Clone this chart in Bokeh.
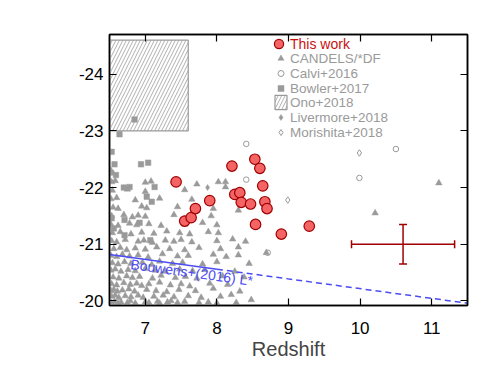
import math
from bokeh.plotting import figure
from bokeh.models import (Range1d, LinearAxis, FixedTicker, Legend, LegendItem, Label,
                          ColumnDataSource, Whisker, TeeHead)
from bokeh.embed import file_html
from bokeh.resources import INLINE

# ---------------- data ----------------
this_z = [7.43, 7.55, 7.64, 7.70, 7.90, 8.21, 8.25, 8.32, 8.34, 8.47, 8.53, 8.60, 8.64, 8.67, 8.70, 8.54, 8.90, 9.29]
this_m = [-22.10, -21.41, -21.47, -21.63, -21.77, -22.38, -21.88, -21.91, -21.74, -21.71, -22.50, -22.34, -22.03, -21.75, -21.63, -21.35, -21.18, -21.32]

candels_z = [6.53, 6.57, 6.62, 6.66, 6.75, 6.79, 6.86, 7.00, 7.05, 7.17, 7.20, 7.31, 7.36, 7.45, 7.55, 7.75, 7.88, 8.00, 8.27, 8.48,
             6.53, 6.58, 6.63, 6.72, 6.80, 6.90, 6.97, 7.12, 7.25, 7.40, 7.60, 7.78, 8.05, 8.20,
             6.52, 6.56, 6.61, 6.68, 6.77, 6.85, 7.02, 7.15, 7.30, 7.47, 7.70, 7.95, 8.32,
             6.53, 6.60, 6.70, 6.79, 6.88, 6.95, 7.05, 7.20, 7.35, 7.50, 7.62, 7.90, 8.15,
             6.55, 6.63, 6.74, 6.82, 6.92, 7.10, 7.22, 7.42, 7.56, 7.72, 8.08, 8.38,
             6.52, 6.58, 6.66, 6.76, 6.86, 7.00, 7.14, 7.28, 7.48, 7.66, 7.83, 8.25,
             6.54, 6.62, 6.71, 6.80, 6.96, 7.09, 7.20, 7.38, 7.52, 7.80, 8.00, 8.45,
             6.52, 6.60, 6.68, 6.78, 6.90, 7.04, 7.24, 7.45, 7.60, 7.95, 8.13, 8.30,
             6.56, 6.65, 6.74, 6.86, 7.00, 7.16, 7.34, 7.55, 7.75, 8.05, 8.30,
             6.53, 6.60, 6.72, 6.90, 6.98, 7.10, 7.28, 7.40, 7.50, 7.65, 8.00, 8.22, 8.40,
             6.54, 6.65, 6.80, 6.95, 7.12, 7.30, 7.48, 7.62, 7.88, 8.02,
             6.52, 6.62, 6.78, 6.88, 7.05, 7.22, 7.55, 7.80, 8.00,
             6.53, 6.70, 6.82, 6.90, 7.00, 7.40, 7.92,
             6.55, 6.62, 6.95, 7.02, 7.45, 7.95, 8.30,
             6.52, 6.60, 6.86, 7.20, 7.65,
             6.54, 6.75, 7.00, 7.55,
             6.53, 6.58, 7.00, 7.08, 7.72, 8.02, 8.12, 8.12,
             6.52, 6.55,
             10.21, 11.10, 8.69]
candels_m = [-19.97, -19.99, -19.96, -19.98, -19.97, -20.00, -19.96, -19.98, -19.97, -19.99, -19.96, -19.98, -20.00, -19.97, -19.99, -19.97, -19.98, -19.96, -19.97, -20.02,
             -20.08, -20.10, -20.06, -20.09, -20.07, -20.10, -20.06, -20.08, -20.10, -20.07, -20.09, -20.06, -20.08, -20.11,
             -20.18, -20.20, -20.17, -20.19, -20.21, -20.17, -20.20, -20.18, -20.16, -20.20, -20.18, -20.22, -20.17,
             -20.30, -20.28, -20.32, -20.29, -20.31, -20.27, -20.30, -20.33, -20.28, -20.30, -20.26, -20.31, -20.29,
             -20.42, -20.40, -20.44, -20.41, -20.43, -20.40, -20.45, -20.41, -20.43, -20.40, -20.44, -20.42,
             -20.54, -20.56, -20.52, -20.55, -20.53, -20.57, -20.54, -20.52, -20.56, -20.53, -20.55, -20.52,
             -20.67, -20.65, -20.69, -20.66, -20.68, -20.64, -20.70, -20.66, -20.68, -20.65, -20.69, -20.66,
             -20.80, -20.78, -20.82, -20.79, -20.81, -20.77, -20.83, -20.79, -20.80, -20.82, -20.78, -20.81,
             -20.92, -20.94, -20.90, -20.93, -20.91, -20.95, -20.92, -20.90, -20.94, -20.92, -20.95,
             -21.06, -21.04, -21.08, -21.05, -21.07, -21.03, -21.07, -21.05, -21.08, -21.04, -21.06, -21.09, -21.05,
             -21.20, -21.22, -21.18, -21.21, -21.19, -21.23, -21.20, -21.18, -21.22, -21.20,
             -21.35, -21.33, -21.37, -21.34, -21.36, -21.33, -21.35, -21.38, -21.34,
             -21.50, -21.52, -21.48, -21.51, -21.49, -21.52, -21.50,
             -21.65, -21.63, -21.67, -21.64, -21.66, -21.63, -21.60,
             -21.80, -21.82, -21.78, -21.81, -21.79,
             -21.95, -21.97, -21.93, -21.96,
             -22.10, -22.12, -22.09, -22.11, -22.06, -22.10, -22.10, -22.01,
             -22.30, -22.25,
             -21.55, -22.08, -20.85]

bowler_z = [6.64, 6.53, 6.57, 6.59, 6.94, 7.04, 6.70, 6.78, 7.13, 7.09, 7.02, 6.92, 6.71, 6.53, 6.56, 7.07, 6.85, 6.71]
bowler_m = [-22.94, -22.63, -22.41, -22.22, -22.41, -22.44, -22.00, -22.01, -22.01, -21.75, -21.84, -21.38, -21.43, -21.46, -21.28, -21.07, -23.20, -21.16]

calvi_z = [8.41, 8.41, 9.99, 10.50, 8.71]
calvi_m = [-22.77, -22.14, -22.17, -22.68, -20.85]

livermore_z = [7.87]
livermore_m = [-22.00]

morishita_z = [9.99, 8.99]
morishita_m = [-22.61, -21.78]

ono_z_lo = [6.5]
ono_z_hi = [7.6]
ono_m_faint = [-23.0]
ono_m_bright = [-24.6]

bouwens_z = [6.5, 8.0, 11.5]
bouwens_m = [-20.82, -20.56, -19.96]

err_z = [10.6]
err_m = [-21.0]
err_dz = [0.72]
err_dm = [0.35]

xticks = [7, 8, 9, 10, 11]
xtick_labels = ["7", "8", "9", "10", "11"]
yticks = [-20, -21, -22, -23, -24]
ytick_labels = ["-20", "-21", "-22", "-23", "-24"]

legend_labels = ["CANDELS/*DF", "Calvi+2016", "Bowler+2017", "Ono+2018", "Livermore+2018", "Morishita+2018"]

x_lim = (6.5, 11.5)
y_lim = (-19.92, -24.7)

# ---------------- figure ----------------
FONT = "Liberation Sans"
GRAY = "#9a9a9a"
W, H = 493, 368
ML, MR, MT, MB = 109, 26, 34, 63

p = figure(width=W, height=H, output_backend="svg", toolbar_location=None,
           x_range=Range1d(*x_lim), y_range=Range1d(*y_lim),
           min_border_left=ML, min_border_right=MR, min_border_top=MT, min_border_bottom=MB,
           background_fill_color="white", border_fill_color="white")
p.grid.visible = False
p.outline_line_color = "black"
p.outline_line_width = 1.5

xt = FixedTicker(ticks=xticks, num_minor_ticks=5)
yt = FixedTicker(ticks=yticks, num_minor_ticks=5)


def style_axis(ax, standoff=6):
    ax.axis_line_color = "black"
    ax.axis_line_width = 1.5
    ax.major_tick_in = 7
    ax.major_tick_out = 0
    ax.minor_tick_in = 4
    ax.minor_tick_out = 0
    ax.major_tick_line_width = 1.2
    ax.minor_tick_line_width = 1.2
    ax.major_tick_line_color = "black"
    ax.minor_tick_line_color = "black"
    ax.major_label_text_font = FONT
    ax.major_label_text_color = "black"
    ax.major_label_standoff = standoff
    ax.major_label_text_font_size = "17px"


xa = p.xaxis[0]
xa.ticker = xt
xa.major_label_overrides = dict(zip(xticks, xtick_labels))
style_axis(xa, 16)
xa.axis_label = "Redshift"
xa.axis_label_text_font = FONT
xa.axis_label_text_font_size = "20px"
xa.axis_label_text_font_style = "normal"
xa.axis_label_standoff = 1

ya = p.yaxis[0]
ya.ticker = yt
ya.major_label_overrides = dict(zip(yticks, ytick_labels))
style_axis(ya, 6)

top_ax = LinearAxis(ticker=xt)
style_axis(top_ax, 2)
top_ax.major_label_overrides = {t: "" for t in xticks}
p.add_layout(top_ax, "above")
right_ax = LinearAxis(ticker=yt)
style_axis(right_ax, 2)
right_ax.major_label_overrides = {t: "" for t in yticks}
p.add_layout(right_ax, "right")

# ---------------- glyphs ----------------
r_ono = p.quad(left=ono_z_lo, right=ono_z_hi, bottom=ono_m_faint, top=ono_m_bright,
               fill_color=None, line_color=GRAY, line_width=1.2,
               hatch_pattern="/", hatch_color=GRAY, hatch_scale=7, hatch_weight=0.8)

r_candels = p.scatter(candels_z, candels_m, marker="triangle", size=6.5,
                      fill_color=GRAY, line_color=GRAY, line_width=0.5)
r_bowler = p.scatter(bowler_z, bowler_m, marker="square", size=5.5,
                     fill_color=GRAY, line_color=GRAY, line_width=0.5)
r_calvi = p.scatter(calvi_z, calvi_m, marker="circle", size=5.5,
                    fill_color=None, line_color=GRAY, line_width=1)
r_liver = p.scatter(livermore_z, livermore_m, marker="diamond", size=6,
                    fill_color=GRAY, line_color=GRAY, line_width=0.5)
r_mori = p.scatter(morishita_z, morishita_m, marker="diamond", size=6.5,
                   fill_color=None, line_color=GRAY, line_width=1)

BLUE = "#4c4cf5"
p.line(bouwens_z[:2], bouwens_m[:2], line_color=BLUE, line_width=1.5)
p.line(bouwens_z[1:], bouwens_m[1:], line_color=BLUE, line_width=1.5, line_dash="6 4")

frame_w = W - ML - MR
frame_h = H - MT - MB
dz = (bouwens_z[-1] - bouwens_z[0]) / (x_lim[1] - x_lim[0]) * frame_w
dm = (bouwens_m[-1] - bouwens_m[0]) / (y_lim[0] - y_lim[1]) * frame_h
ang = -math.atan2(dm, dz)
p.add_layout(Label(x=6.81, y=-20.79, text="Bouwens+(2016) L*", angle=ang,
                   text_baseline="top", text_align="left", text_color=BLUE,
                   text_font=FONT, text_font_size="14px"))

DRED = "#a00000"
err_src = ColumnDataSource(dict(
    z=err_z, m=err_m,
    zl=[z - d for z, d in zip(err_z, err_dz)], zu=[z + d for z, d in zip(err_z, err_dz)],
    ml=[m - d for m, d in zip(err_m, err_dm)], mu=[m + d for m, d in zip(err_m, err_dm)]))
p.add_layout(Whisker(base="m", lower="zl", upper="zu", dimension="width", source=err_src,
                     line_color=DRED, line_width=1.5,
                     lower_head=TeeHead(size=8, line_color=DRED, line_width=1.5),
                     upper_head=TeeHead(size=8, line_color=DRED, line_width=1.5)))
p.add_layout(Whisker(base="z", lower="ml", upper="mu", dimension="height", source=err_src,
                     line_color=DRED, line_width=1.5,
                     lower_head=TeeHead(size=8, line_color=DRED, line_width=1.5),
                     upper_head=TeeHead(size=8, line_color=DRED, line_width=1.5)))

r_this = p.scatter(this_z, this_m, marker="circle", size=10.5,
                   fill_color="#f46464", line_color=DRED, line_width=1.2)

# ---------------- legends (one per row, stacked at a fixed pitch) ----------------
leg_common = dict(padding=0, margin=0, spacing=0, background_fill_alpha=0,
                  border_line_alpha=0, label_text_font=FONT)
p.add_layout(Legend(items=[LegendItem(label="This work", renderers=[r_this])],
                    location=(158, 250), glyph_width=23, glyph_height=23, label_standoff=-2,
                    label_text_font_size="14px", label_text_color="#c81010", **leg_common))

ROW_H = 18          # glyph_height, larger than the text box -> fixed row height
first_center = 58.5  # px from the canvas top
pitch = 14.6
frame_bottom = H - MB
for i, (lab, rend) in enumerate(zip(legend_labels,
                                    [r_candels, r_calvi, r_bowler, r_ono, r_liver, r_mori])):
    centre = first_center + i * pitch
    ypos = int(round(frame_bottom - centre - ROW_H / 2))
    p.add_layout(Legend(items=[LegendItem(label=lab, renderers=[rend])],
                        location=(164, ypos), glyph_width=15, glyph_height=ROW_H,
                        label_standoff=2, label_text_font_size="13.5px",
                        label_text_color=GRAY, **leg_common))

# y axis title
p.add_layout(Label(x=44, y=H - 189, x_units="canvas", y_units="canvas", angle=math.pi / 2,
                   text="M\u2081\u2086\u2080\u2080 [mag]", text_align="center",
                   text_baseline="middle", text_font=FONT, text_font_size="20px",
                   text_color="black"))

open("out.html", "w").write(file_html(p, INLINE))
